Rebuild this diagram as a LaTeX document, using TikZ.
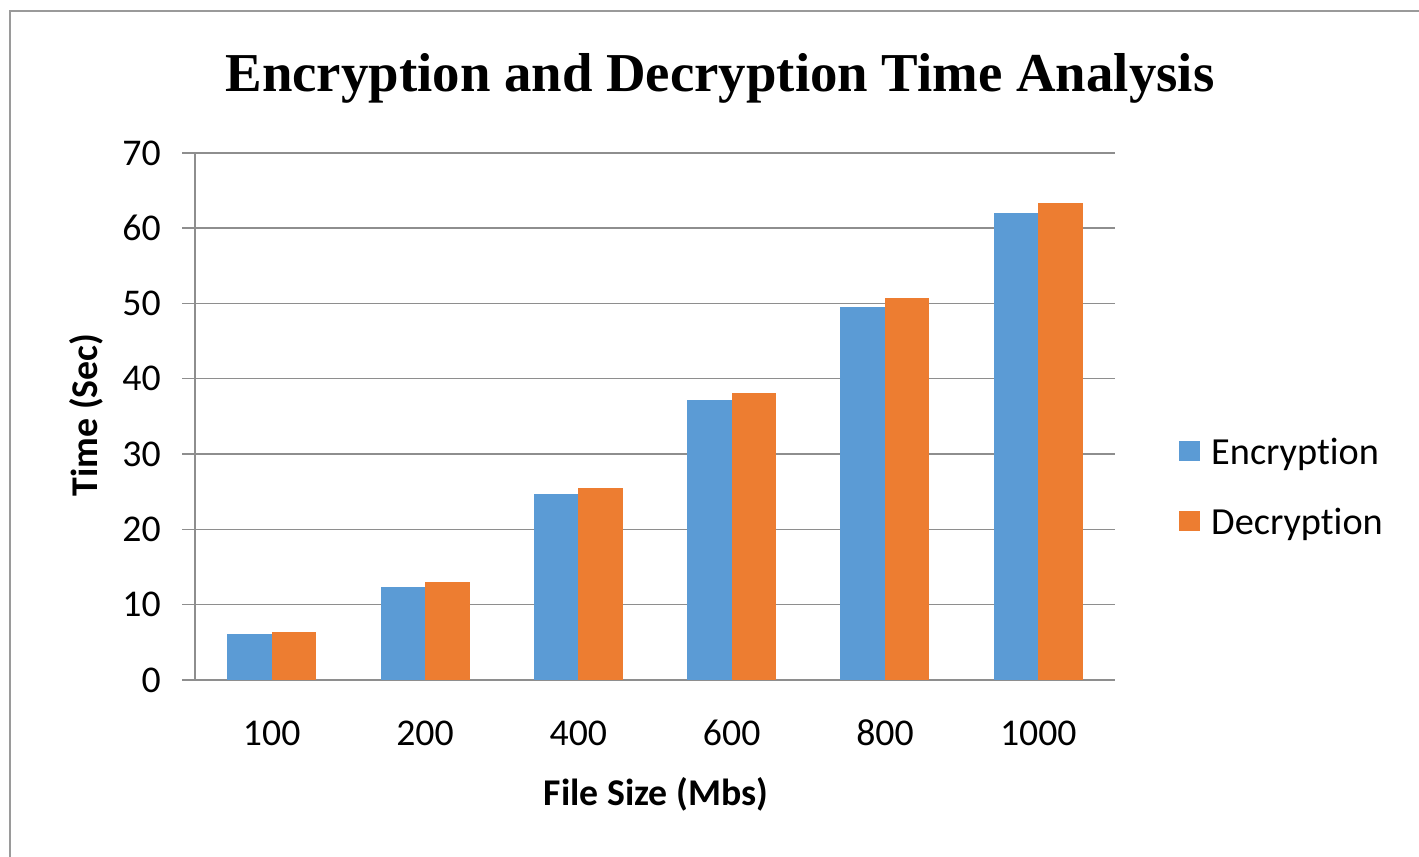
\documentclass[tikz,border=0pt]{standalone}
\usepackage{fontspec}
\setmainfont{Liberation Serif}
\newfontfamily\chartfont[Ligatures=NoCommon]{Carlito}
\usetikzlibrary{positioning}
\definecolor{encBlue}{HTML}{5B9BD5}
\definecolor{decOrange}{HTML}{ED7D31}
\definecolor{gridGray}{HTML}{8E8E8E}
\definecolor{frameGray}{HTML}{9A9A9A}
\tikzset{
  gridline/.style={gridGray, line width=0.8pt},
  barEnc/.style={fill=encBlue, draw=none},
  barDec/.style={fill=decOrange, draw=none},
  ticklabel/.style={font=\chartfont\fontsize{21.5}{26}\selectfont, inner sep=0pt},
  axistitle/.style={font=\chartfont\bfseries\fontsize{21.5}{26}\selectfont, inner sep=0pt},
  legendkey/.style={rectangle, draw=none, minimum size=0.42cm, inner sep=0pt},
  legendlabel/.style={font=\chartfont\fontsize{21.8}{26}\selectfont, inner sep=0pt,
                      text depth=0pt},
}
\begin{document}
\begin{tikzpicture}[x=0.02cm, y=-0.02cm, node distance=0.22cm]
    \useasboundingbox (0,0) rectangle (1419,857);
    %% cadre
    \draw[frameGray, line width=1.1pt] (10,857) -- (10,11) -- (1419,11);
    %% titre
    \node[font=\bfseries\fontsize{31.2}{36}\selectfont, anchor=base]
         (title) at (720,92) {Encryption and Decryption Time Analysis};

    %% grille + etiquettes de l'axe Y
    \foreach \v in {0,10,...,70}{
      \draw[gridline] (182,{680-7.53*\v}) -- (1115,{680-7.53*\v});
      \node[ticklabel, anchor=east] (ytick\v) at (161,{680-7.53*\v}) {\v};
    }
    \draw[gridline] (195,{680-7.53*70}) -- (195,680);

    %% barres
    \foreach \c/\e/\d [count=\i] in {100/6.1/6.4, 200/12.4/13.0, 400/24.7/25.5,
                                     600/37.2/38.1, 800/49.5/50.7, 1000/62.0/63.3}{
      \pgfmathsetmacro\cx{195+153.33*(\i-0.5)}
      \fill[barEnc] (\cx-44.5,680) rectangle (\cx,{680-7.53*\e});
      \fill[barDec] (\cx,680) rectangle (\cx+44.5,{680-7.53*\d});
      \node[ticklabel] (cat\i) at (\cx,733) {\c};
    }

    %% titres des axes
    \node[axistitle, anchor=base] (xtitle) at (656,805) {File Size (Mbs)};
    \node[axistitle, anchor=base, rotate=90] (ytitle) at (97,415) {Time (Sec)};

    %% legende
    \node[legendkey, fill=encBlue] (keyEnc) at (1189,451) {};
    \node[legendlabel, right=of keyEnc] (labEnc) {Encryption};
    \node[legendkey, fill=decOrange] (keyDec) at (1189,521) {};
    \node[legendlabel, right=of keyDec] (labDec) {Decryption};
  \end{tikzpicture}
\end{document}
